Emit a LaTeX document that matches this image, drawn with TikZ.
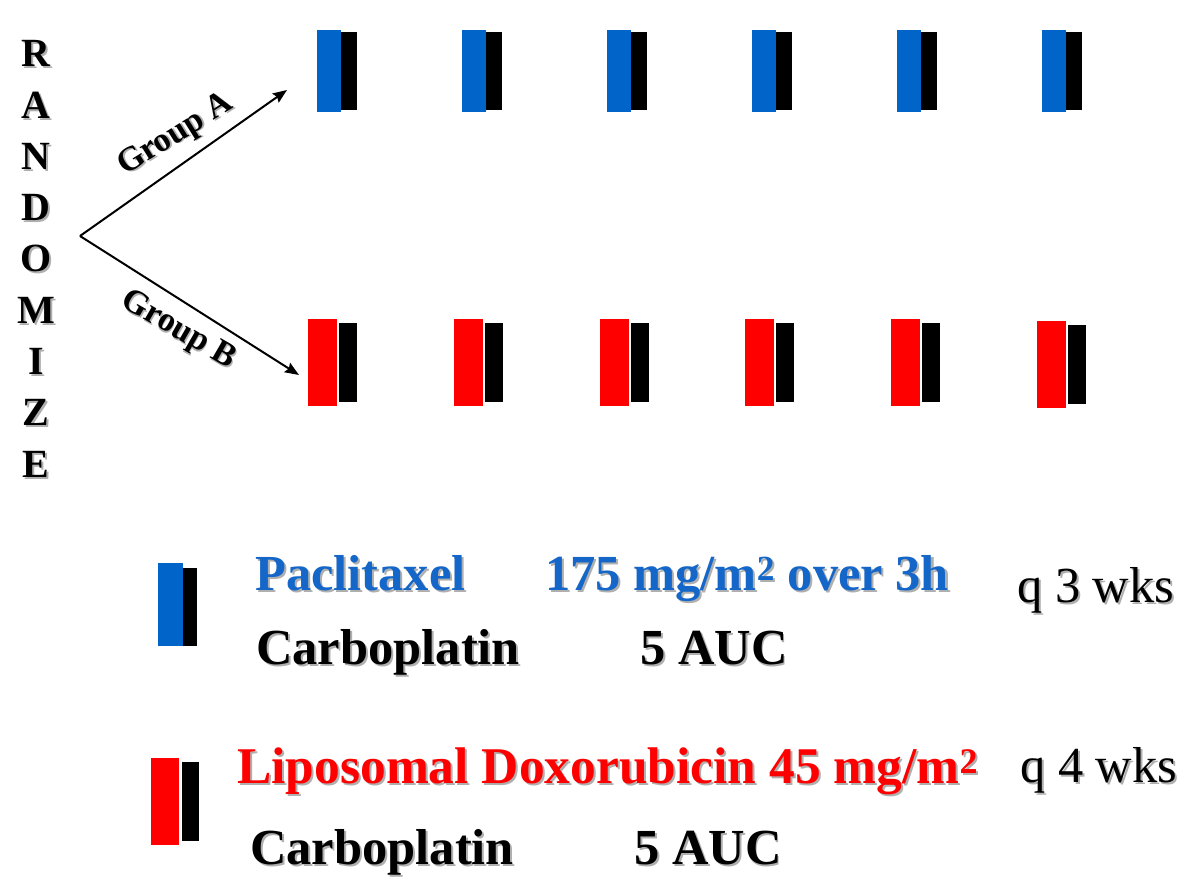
\documentclass[tikz,border=0pt]{standalone}
\usepackage{fontspec}
\setmainfont{Liberation Serif}
\usetikzlibrary{arrows.meta}
\definecolor{barblue}{RGB}{0,100,200}
\definecolor{txtblue}{RGB}{20,102,200}
\definecolor{barred}{RGB}{255,0,0}
\definecolor{shade}{RGB}{175,175,175}
\newcommand\shtxt[2][2pt]{\rlap{\kern#1\raisebox{-#1}{\color{shade}#2}}#2}
\tikzset{
  bar/.style={inner sep=0pt, outer sep=0pt, draw=none},
  bluebar/.style={bar, fill=barblue, minimum width=24pt, minimum height=82pt},
  redbar/.style={bar, fill=barred, minimum width=29pt, minimum height=87pt},
  kbar/.style={bar, fill=black},
  letter/.style={anchor=base, inner sep=0pt, font=\fontsize{40}{42}\selectfont\bfseries},
  grp/.style={inner sep=0pt, font=\fontsize{34}{36}\selectfont\bfseries},
  big/.style={anchor=base west, inner sep=0pt, font=\fontsize{50.5}{60}\selectfont\bfseries},
  bigr/.style={anchor=base west, inner sep=0pt, font=\fontsize{50.5}{60}\selectfont},
  arr/.style={line width=2pt, -{Stealth[length=14pt,width=11pt,inset=2pt]}},
}
\begin{document}
\begin{tikzpicture}[x=1pt,y=-1pt]
\useasboundingbox[fill=white] (0,0) rectangle (1200,896);
% RANDOMIZE
\foreach \L [count=\k from 0] in {R,A,N,D,O,M,I,Z,E}{
  \node[letter] (r\k) at (36,{67+51.25*\k}) {\shtxt{\L}};
}
% arrows
\coordinate (split) at (80,236);
\coordinate (endA) at (287,90);
\coordinate (endB) at (299,375);
\draw[arr] (split) -- (endA);
\draw[arr] (split) -- (endB);
\node[grp, rotate=32] (ga) at (176,136) {\shtxt[1.5pt]{Group A}};
\node[grp, rotate=-30] (gb) at (178,331) {\shtxt[1.5pt]{Group B}};
% top row
\foreach \i in {0,...,5}{
  \node[kbar, minimum width=16pt, minimum height=78pt] (ak\i) at ({349+145*\i},71) {};
  \node[bluebar] (a\i) at ({329+145*\i},71) {};
}
% bottom row
\foreach \i/\dy in {0/0,1/0,2/0,3/0,4/0,5/2}{
  \node[kbar, minimum width=18pt, minimum height=79pt] (bk\i) at ({348+145.8*\i},{362.5+\dy}) {};
  \node[redbar] (b\i) at ({322.5+145.8*\i},{362.5+\dy}) {};
}
% legend bars
\node[kbar, minimum width=14pt, minimum height=78pt] (lak) at (190,607) {};
\node[bar, fill=barblue, minimum width=25pt, minimum height=83pt] (la) at (170.5,604.5) {};
\node[kbar, minimum width=17pt, minimum height=79pt] (lbk) at (190.5,801.5) {};
\node[bar, fill=barred, minimum width=28pt, minimum height=87pt] (lb) at (165,801.5) {};
% legend texts
\node[big, text=txtblue] (t1) at (255,590) {\shtxt{Paclitaxel}};
\node[big, text=txtblue] (t2) at (545,590) {\shtxt{175 mg/m\textsuperscript{2} over 3h}};
\node[big] (t3) at (256,664) {\shtxt{Carboplatin}};
\node[big] (t4) at (640,664) {\shtxt{5 AUC}};
\node[bigr] (t5) at (1017,602) {\shtxt{q 3 wks}};
\node[big, text=barred, font=\fontsize{51.5}{60}\selectfont\bfseries] (t6) at (237,783) {\shtxt{Liposomal Doxorubicin 45 mg/m\textsuperscript{2}}};
\node[big] (t7) at (250,864) {\shtxt{Carboplatin}};
\node[big] (t8) at (634,864) {\shtxt{5 AUC}};
\node[bigr] (t9) at (1020,782) {\shtxt{q 4 wks}};
\end{tikzpicture}
\end{document}
